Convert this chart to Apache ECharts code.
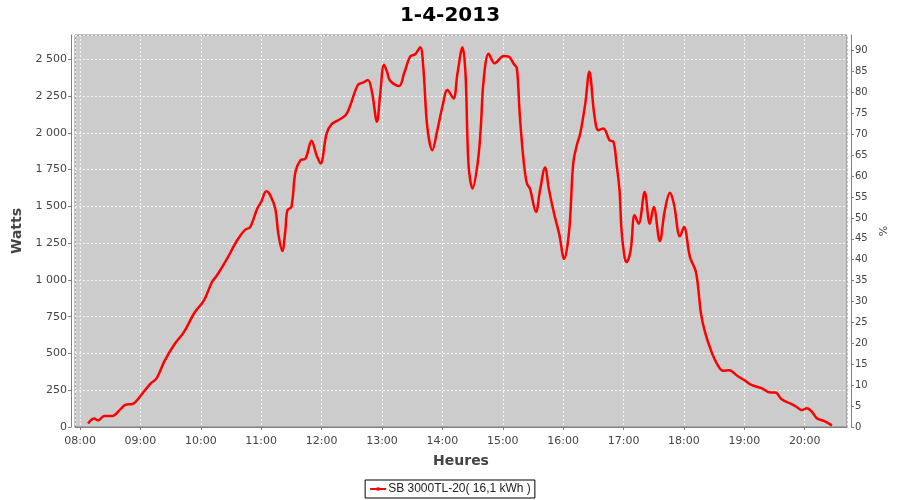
<!DOCTYPE html>
<html>
<head>
<meta charset="utf-8">
<script src="https://cdn.jsdelivr.net/npm/echarts@6/dist/echarts.min.js"></script>
<style>html,body{margin:0;padding:0;background:#fff}#c{width:900px;height:500px}</style>
</head>
<body>
<div id="c"></div>
<script>
var day = '2013-04-01';
var times = ['08:08','08:14','08:18','08:24','08:32','08:40','08:45','08:53','09:00','09:10','09:16','09:24','09:34','09:43','09:54',
'10:03','10:11','10:16','10:26','10:36','10:44','10:49','10:56','11:00','11:05','11:09','11:14','11:17','11:21','11:24','11:26','11:30','11:34','11:39','11:44','11:50','11:55','11:59',
'12:05','12:10','12:17','12:24','12:28','12:36','12:41','12:46','12:50','12:55','12:58','13:02','13:05','13:08','13:17','13:22','13:28','13:33','13:38','13:41','13:45','13:50','13:55',
'14:00','14:05','14:11','14:15','14:20','14:23','14:26','14:30','14:35','14:38','14:41','14:46','14:52','15:01','15:06','15:11','15:14','15:17','15:21','15:24','15:27','15:33','15:37','15:42','15:46','15:51','15:56',
'16:01','16:06','16:10','16:14','16:17','16:22','16:26','16:31','16:35','16:40','16:46','16:50','16:53','16:56','16:58','17:01','17:03','17:07','17:11','17:15','17:21','17:26','17:30','17:36','17:41','17:46','17:50','17:56',
'18:00','18:06','18:12','18:17','18:21','18:27','18:33','18:39','18:45','18:53','19:01','19:07','19:17','19:26','19:31','19:37','19:46','19:52','19:57','20:02','20:07','20:12','20:19','20:27'];
var watts = [23,57,45,75,75,120,150,159,211,295,330,450,564,643,780,
859,984,1030,1143,1268,1341,1359,1484,1530,1602,1575,1484,1314,1196,1336,1473,1496,1734,1814,1825,1946,1848,1791,
1996,2059,2087,2121,2177,2325,2341,2359,2280,2075,2246,2462,2416,2355,2318,2405,2518,2534,2582,2450,2041,1882,2018,
2177,2291,2234,2405,2582,2400,1780,1621,1791,2018,2359,2537,2473,2523,2518,2468,2439,2109,1791,1655,1621,1462,1609,1764,1609,1450,1314,
1143,1336,1791,1927,1996,2200,2416,2121,2018,2030,1950,1939,1791,1609,1336,1155,1121,1200,1439,1382,1598,1382,1496,1264,1473,1593,1518,1296,
1359,1155,1052,768,643,518,427,382,386,348,314,286,264,234,234,189,159,136,114,127,105,59,41,11];
var seriesName = 'SB 3000TL-20( 16,1 kWh )';
var titleText = '1-4-2013';

var data = times.map(function(t, i){ return [day + ' ' + t, watts[i]]; });
function thousands(v){ return String(Math.round(v)).replace(/\B(?=(\d{3})+(?!\d))/g, ' '); }
var labelColor = '#444444';
var axisColor = '#808080';
var chart = echarts.init(document.getElementById('c'), null, {renderer: 'canvas'});
chart.setOption({
  animation: false,
  backgroundColor: '#ffffff',
  title: {text: titleText, left: 'center', top: 1,
    textStyle: {fontFamily: 'DejaVu Sans', fontWeight: 'bold', fontSize: 20, color: '#000'}},
  grid: {left: 75, top: 35, right: 53, bottom: 73, show: true, backgroundColor: '#cccccc',
    borderColor: axisColor, borderWidth: 1},
  legend: {bottom: 2, left: 'center', data: [seriesName], borderColor: '#000', borderWidth: 1,
    backgroundColor: '#fff', padding: [3, 4], itemWidth: 16, itemHeight: 4, itemGap: 2, borderRadius: 0,
    textStyle: {fontFamily: 'Liberation Sans', fontSize: 12, color: '#222', padding: [0, 0, 0, -3]}},
  xAxis: {
    type: 'time', min: day + ' 07:55', max: day + ' 20:42', offset: 4,
    minInterval: 3600000, maxInterval: 3600000,
    name: 'Heures', nameLocation: 'middle', nameGap: 23,
    nameTextStyle: {fontFamily: 'DejaVu Sans', fontWeight: 'bold', fontSize: 14, color: labelColor},
    axisLine: {lineStyle: {color: axisColor}},
    axisTick: {show: true, length: 3, lineStyle: {color: axisColor}},
    axisLabel: {fontFamily: 'DejaVu Sans', fontSize: 11, color: labelColor, margin: 5,
      formatter: function(v){ return echarts.time.format(v, '{HH}:{mm}', false); }},
    splitLine: {show: true, lineStyle: {color: '#f4f4f4', type: [2, 2], width: 1}}
  },
  yAxis: [{
    type: 'value', min: 0, max: 2665, interval: 250, offset: 4,
    name: 'Watts', nameLocation: 'middle', nameGap: 41,
    nameTextStyle: {fontFamily: 'DejaVu Sans', fontWeight: 'bold', fontSize: 14, color: labelColor},
    axisLine: {show: true, lineStyle: {color: axisColor}},
    axisTick: {show: true, length: 3, lineStyle: {color: axisColor}},
    axisLabel: {fontFamily: 'DejaVu Sans', fontSize: 11, color: labelColor, margin: 4, showMaxLabel: false,
      formatter: thousands},
    splitLine: {show: true, lineStyle: {color: '#f4f4f4', type: [2, 2], width: 1}}
  }, {
    type: 'value', min: 0, max: 93.75, interval: 5, offset: 4, position: 'right',
    name: '%', nameLocation: 'middle', nameGap: 25,
    nameTextStyle: {fontFamily: 'DejaVu Sans', fontSize: 11, color: labelColor},
    axisLine: {show: true, lineStyle: {color: axisColor}},
    axisTick: {show: true, length: 3, lineStyle: {color: axisColor}},
    axisLabel: {fontFamily: 'DejaVu Sans', fontSize: 10, color: labelColor, margin: 4, showMaxLabel: false},
    splitLine: {show: false}
  }],
  series: [{
    name: seriesName, type: 'line', data: data, yAxisIndex: 0,
    smooth: 0.35, showSymbol: false, symbol: 'rect', symbolSize: 4,
    lineStyle: {color: '#ff0000', width: 2.5}, itemStyle: {color: '#ff0000'}
  }]
});
</script>
</body>
</html>
